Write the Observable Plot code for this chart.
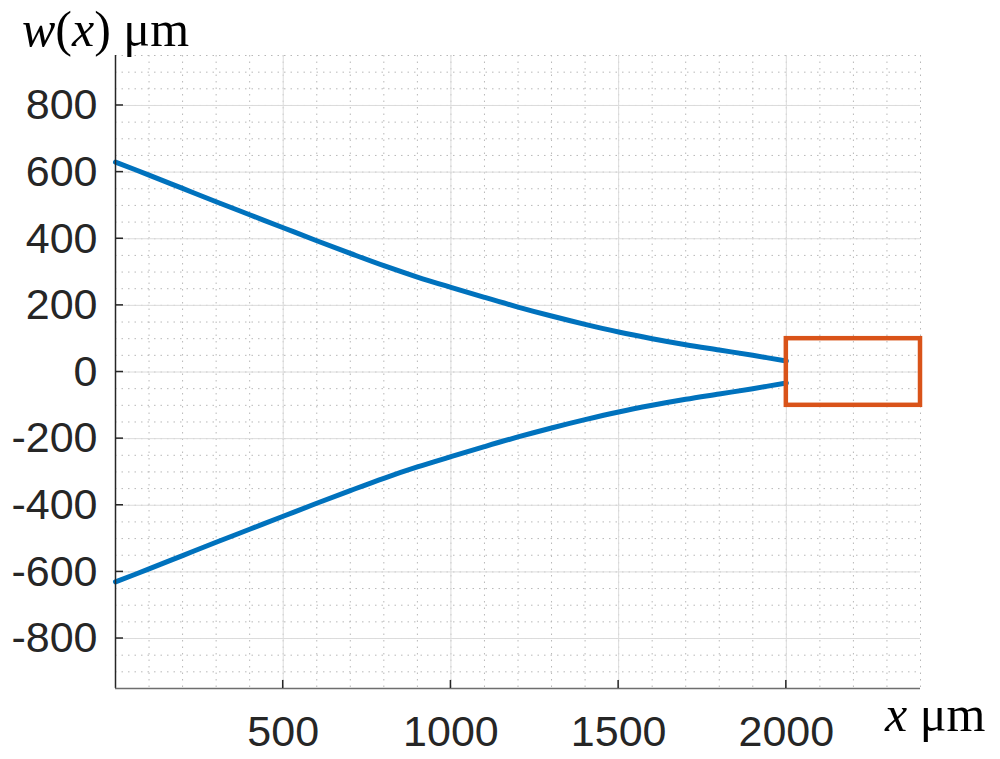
<!DOCTYPE html>
<html>
<head>
<meta charset="utf-8">
<script src="https://cdn.jsdelivr.net/npm/d3@7"></script>
<script src="https://cdn.jsdelivr.net/npm/@observablehq/plot@0.6"></script>
<style>
  html, body { margin: 0; padding: 0; background: #fff; }
  #chart svg { display: block; }
</style>
</head>
<body>
<div id="chart"></div>
<script>
// Data
const xs = [0, 100, 200, 300, 400, 500, 600, 700, 800, 900, 1000, 1100, 1200, 1300, 1400, 1500, 1600, 1700, 1800, 1900, 2000];
const upper = [630, 591, 551, 511, 472, 433, 394, 356, 319, 285, 254, 224, 195, 168, 143, 120, 100, 82, 66, 50, 33];
const lower = [-630, -591, -551, -511, -472, -433, -394, -356, -319, -285, -254, -224, -195, -168, -143, -120, -100, -82, -66, -50, -33];
const boxX = [2000, 2400];
const boxY = [-100, 100];
const xTicks = [500, 1000, 1500, 2000];
const yTicks = [-800, -600, -400, -200, 0, 200, 400, 600, 800];
const xMinor = d3.range(0, 2401, 100);
const yMinor = d3.range(-950, 951, 50);

const upperData = xs.map((x, i) => ({x, w: upper[i]}));
const lowerData = xs.map((x, i) => ({x, w: lower[i]}));
const boxData = [{x1: boxX[0], x2: boxX[1], y1: boxY[0], y2: boxY[1]}];

const chart = Plot.plot({
  width: 1000,
  height: 759,
  marginLeft: 115,
  marginRight: 80,
  marginTop: 55,
  marginBottom: 71,
  style: {fontFamily: "Liberation Sans, Arial, sans-serif", background: "#fff"},
  x: {domain: [0, 2400]},
  y: {domain: [-950, 950]},
  marks: [
    Plot.gridX(xMinor, {stroke: "#b8b8b8", strokeOpacity: 1, strokeWidth: 1, strokeDasharray: "1.5,5"}),
    Plot.gridY(yMinor, {stroke: "#b8b8b8", strokeOpacity: 1, strokeWidth: 1, strokeDasharray: "1.5,5"}),
    Plot.gridX(xTicks, {stroke: "#dcdcdc", strokeOpacity: 1, strokeWidth: 1}),
    Plot.gridY(yTicks, {stroke: "#dcdcdc", strokeOpacity: 1, strokeWidth: 1}),
    Plot.line(upperData, {x: "x", y: "w", stroke: "#0072BD", strokeWidth: 5, curve: "catmull-rom"}),
    Plot.line(lowerData, {x: "x", y: "w", stroke: "#0072BD", strokeWidth: 5, curve: "catmull-rom"}),
    Plot.rect(boxData, {x1: "x1", x2: "x2", y1: "y1", y2: "y2", fill: "none", stroke: "#D95319", strokeWidth: 4.5}),
    Plot.axisX({ticks: xTicks, tickSize: 0, tickPadding: 27, fontSize: 43, fill: "#262626", label: null, tickFormat: d => String(d)}),
    Plot.axisY({ticks: yTicks, tickSize: 0, tickPadding: 18, fontSize: 43, fill: "#262626", label: null, tickFormat: d => String(d)}),
    Plot.ruleX([0], {stroke: "#262626", strokeWidth: 1.5}),
    Plot.ruleY([-950], {stroke: "#6e6e6e", strokeWidth: 1.5})
  ]
});

const svg = d3.select(chart);
const sx = chart.scale("x"), sy = chart.scale("y");
const x0 = sx.apply(0), yb = sy.apply(-950);
// inward ticks
const tg = svg.append("g").attr("stroke", "#262626").attr("stroke-width", 1.5);
xTicks.forEach(v => {
  const px = sx.apply(v);
  tg.append("line").attr("x1", px).attr("x2", px).attr("y1", yb).attr("y2", yb - 8);
});
yTicks.forEach(v => {
  const py = sy.apply(v);
  tg.append("line").attr("x1", x0).attr("x2", x0 + 8).attr("y1", py).attr("y2", py);
});

// axis labels
const serif = "Liberation Serif, Times New Roman, serif";
const yl = svg.append("text").attr("x", 22).attr("y", 46).attr("text-anchor", "start")
  .attr("font-family", serif).attr("font-size", 50).attr("fill", "#000");
yl.append("tspan").attr("font-style", "italic").text("w");
yl.append("tspan").text("(");
yl.append("tspan").attr("font-style", "italic").text("x");
yl.append("tspan").text(") μm");

const xl = svg.append("text").attr("x", 885).attr("y", 731).attr("text-anchor", "start")
  .attr("font-family", serif).attr("font-size", 50).attr("fill", "#000");
xl.append("tspan").attr("font-style", "italic").text("x");
xl.append("tspan").text(" μm");

document.getElementById("chart").appendChild(chart);
</script>
</body>
</html>
